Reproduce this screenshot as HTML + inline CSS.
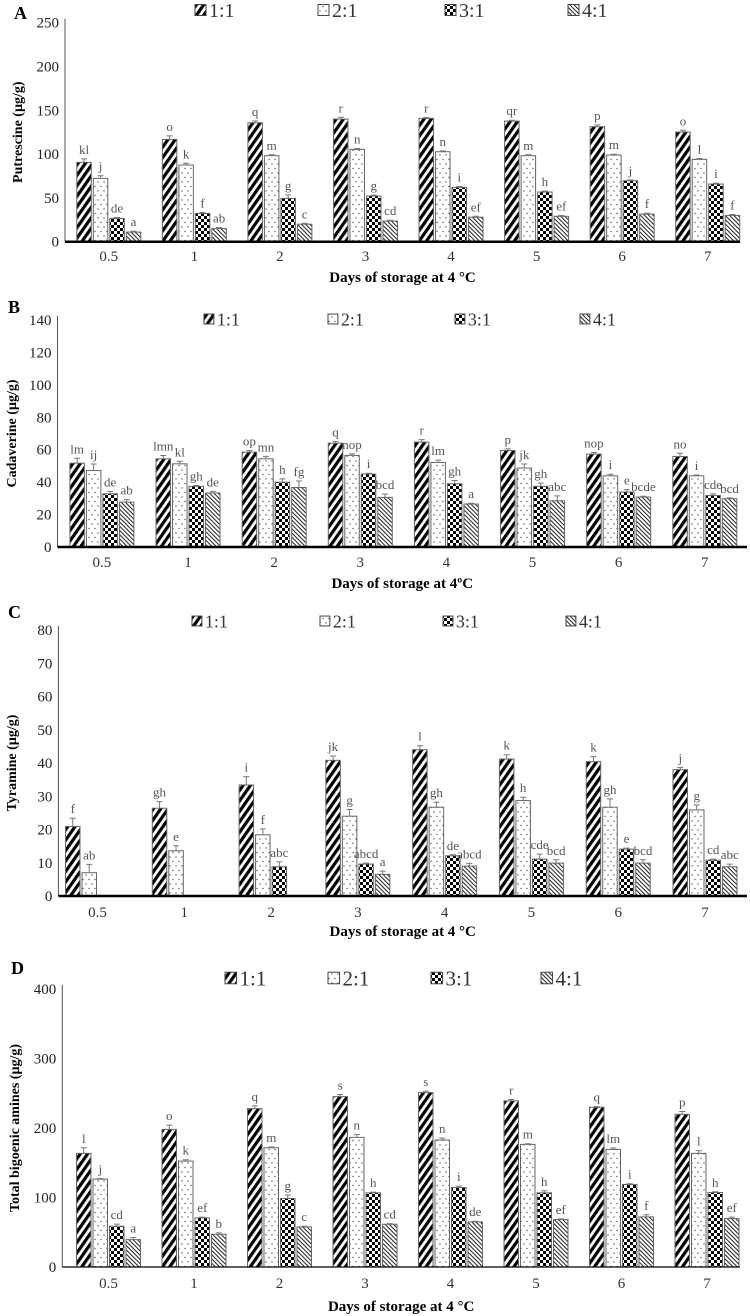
<!DOCTYPE html>
<html><head><meta charset="utf-8">
<style>
body{margin:0;background:#fff;}
svg{display:block;font-family:"Liberation Serif",serif;}
</style></head>
<body>
<svg id="fig" width="750" height="1316" viewBox="0 0 750 1316" xmlns="http://www.w3.org/2000/svg">
<defs>
<pattern id="p11" width="6" height="6" patternUnits="userSpaceOnUse" patternTransform="rotate(35)">
<rect width="6" height="6" fill="#fff"/><rect width="3.2" height="6" fill="#000"/></pattern>
<pattern id="p21" width="6" height="9" patternUnits="userSpaceOnUse">
<rect width="6" height="9" fill="#fff"/><circle cx="2" cy="2" r="0.7" fill="#555"/><circle cx="5" cy="6.5" r="0.7" fill="#555"/></pattern>
<pattern id="p31" width="6" height="6" patternUnits="userSpaceOnUse">
<rect width="6" height="6" fill="#fff"/><rect width="3" height="3" fill="#000"/><rect x="3" y="3" width="3" height="3" fill="#000"/></pattern>
<pattern id="p41" width="3" height="3" patternUnits="userSpaceOnUse" patternTransform="rotate(-45)">
<rect width="3" height="3" fill="#fff"/><rect width="1" height="3" fill="#222"/></pattern>
</defs>
</svg>
<script>
const days=["0.5","1","2","3","4","5","6","7"];
const ratios=["1:1","2:1","3:1","4:1"];
const putrescine=[[90.6,116.8,135.8,140,140.8,137.7,131.3,125.2],[72.3,87.5,98.2,105.4,102.7,98.2,98.9,94],[26.6,32.3,49.5,52.1,62,56.7,69.6,65.8],[11,15,20,23.5,28,29,31.5,30]];
const putrescineErr=[[4,4,2,2,1,1,2,2],[3,2,1,1,1,1,1,1],[1,1,4,1,1,1,1,1],[1,1,1,1,1,1,1,1]];
const putrescineLetters=[["kl","o","q","r","r","qr","p","o"],["j","k","m","n","n","m","m","l"],["de","f","g","g","i","h","j","i"],["a","ab","c","cd","ef","ef","f","f"]];
const cadaverine=[[51.7,54.4,58.5,64,64.7,59.5,57.3,55.8],[47.2,51.3,54.4,56.5,52.1,48.7,43.9,43.9],[32.8,37.4,40,45,39,37.4,33.9,31.8],[27.7,33.3,36.7,30.6,26.5,28.5,30.8,29.8]];
const cadaverineErr=[[3,2,1,1,1.5,1,1,2],[4,1.5,1.5,1,1.5,2.5,1,0.5],[1.5,0.5,2,0.5,2,2,1.5,1],[1.5,1,4,2,0.5,3,0.5,0.5]];
const cadaverineLetters=[["lm","lmn","op","q","r","p","nop","no"],["ij","kl","mn","nop","lm","jk","i","i"],["de","gh","h","i","gh","gh","e","cde"],["ab","de","fg","bcd","a","abc","bcde","bcd"]];
const tyramine=[[20.9,26.4,33.4,40.8,44,41.2,40.4,38],[7,13.6,18.4,24,26.7,28.7,26.7,25.9],[null,null,8.8,9.6,12.1,11.1,14.1,10.8],[null,null,null,6.5,9,9.9,9.9,8.8]];
const tyramineErr=[[2.5,2,2.5,1.3,1.2,1.3,1.5,0.7],[2.5,1.5,1.8,2,1.5,1,2.5,1.5],[0,0,1.5,0.3,0.3,1.5,0.3,0.3],[0,0,0,1,0.8,1,1,0.8]];
const tyramineLetters=[["f","gh","i","jk","l","k","k","j"],["ab","e","f","g","gh","h","gh","g"],["","","abc","abcd","de","cde","e","cd"],["","","","a","abcd","bcd","bcd","abc"]];
const totalAmines=[[163.5,198,227.9,245.2,251,239,229.8,219.7],[126.4,152.4,171.6,186.5,182.7,176.4,169.2,163.5],[58.7,70.7,98.6,106.7,114.4,106.7,118.8,107.2],[39.4,47.1,57.7,61.5,64.9,68.3,72.1,69.7]];
const totalErr=[[8,6,4,3,2,2,1,4],[1,2,1,4,3,1,2,4],[3,1,5,1,2,3,1,1],[3,2,1,1,1,1,3,2]];
const totalLetters=[["l","o","q","s","s","r","q","p"],["j","k","m","n","n","m","lm","l"],["cd","ef","g","h","i","h","i","h"],["a","b","c","cd","de","ef","f","ef"]];

const yTicksA=[0,50,100,150,200,250];
const yTicksB=[0,20,40,60,80,100,120,140];
const yTicksC=[0,10,20,30,40,50,60,70,80];
const yTicksD=[0,100,200,300,400];

const NS="http://www.w3.org/2000/svg";
const svg=document.getElementById('fig');
function mk(tag,attrs,parent,text){const e=document.createElementNS(NS,tag);for(const k in attrs)e.setAttribute(k,attrs[k]);if(text!==undefined)e.textContent=text;(parent||svg).appendChild(e);return e;}
const pats=["url(#p11)","url(#p21)","url(#p31)","url(#p41)"];

const panels=[
 {key:"a",label:"A",lx:14,ly:19,data:putrescine,err:putrescineErr,letters:putrescineLetters,ticks:yTicksA,max:250,yTop:22.7,yBase:241.7,ax:65,axR:740,c0:108.8,c7:707.7,tickY:261,title:"Days of storage at 4 °C",titleY:282,yTitle:"Putrescine (µg/g)",yTitleX:14,legY:10,legX:[195,318,445,568],legFont:20,baseW:2.5},
 {key:"b",label:"B",lx:8,ly:313,data:cadaverine,err:cadaverineErr,letters:cadaverineLetters,ticks:yTicksB,max:140,yTop:320,yBase:547,ax:57.5,axR:747,c0:101.9,c7:704.8,tickY:567,title:"Days of storage at 4ºC",titleY:588,yTitle:"Cadaverine (µg/g)",yTitleX:8,legY:319,legX:[204,328,455,580],legFont:18,baseW:2.5},
 {key:"c",label:"C",lx:8,ly:618,data:tyramine,err:tyramineErr,letters:tyramineLetters,ticks:yTicksC,max:80,yTop:630,yBase:896,ax:58.4,axR:747,c0:97.5,c7:705,tickY:917,title:"Days of storage at 4 °C",titleY:936,yTitle:"Tyramine (µg/g)",yTitleX:8,legY:621,legX:[192,320,443,566],legFont:18,baseW:2.5},
 {key:"d",label:"D",lx:11,ly:974,data:totalAmines,err:totalErr,letters:totalLetters,ticks:yTicksD,max:400,yTop:989,yBase:1267,ax:62.3,axR:740,c0:108.5,c7:707,tickY:1288,title:"Days of storage at 4 °C",titleY:1311,yTitle:"Total bigoenic amines (µg/g)",yTitleX:11,legY:978,legX:[225,328,431,541],legFont:21,baseW:1.2}
];
const barW=14.5, barStep=16.5;

panels.forEach(p=>{
  const g=mk('g',{});
  
  
  const yScale=v=>p.yBase-(v/p.max)*(p.yBase-p.yTop);
  const step=(p.c7-p.c0)/(days.length-1);
  const xCenter=i=>p.c0+i*step;
  const lab=mk('text',{x:p.lx,y:p.ly,'font-size':18,'font-weight':'bold'},g,p.label);
  
  
  ratios.forEach((r,s)=>{
    const lg=mk('g',{},g);
    
    
    const sz=p.legFont*0.55;
    mk('rect',{x:p.legX[s],y:p.legY-sz/2,width:sz,height:sz,fill:pats[s],stroke:'#444','stroke-width':1},lg);
    mk('text',{x:p.legX[s]+sz+3,y:p.legY+p.legFont*0.35,'font-size':p.legFont,fill:'#333'},lg,r);
  });
  const ya=mk('line',{x1:p.ax,x2:p.ax,y1:p.yTop-4,y2:p.yBase,stroke:'#555','stroke-width':1},g);
  
  
  p.ticks.forEach(t=>{
    const tl=mk('text',{x:p.ax-6,y:yScale(t)+5,'font-size':15,'text-anchor':'end',fill:'#222'},g,String(t));
    
    
  });
  const yc=(p.yTop+p.yBase)/2;
  const yt=mk('text',{x:p.yTitleX+8,y:yc,'font-size':14,'font-weight':'bold','text-anchor':'middle',transform:`rotate(-90 ${p.yTitleX+8} ${yc})`},g,p.yTitle);
  
  
  days.forEach((d,i)=>{
    const cx=xCenter(i);
    p.data.forEach((ser,s)=>{
      const v=ser[i];
      if(v===null||v===undefined)return;
      const x=cx-2*barStep+(barStep-barW)/2+s*barStep;
      const yv=yScale(v);
      const b=mk('rect',{x:x,y:yv,width:barW,height:p.yBase-yv,fill:pats[s],stroke:'#666','stroke-width':1},g);
      
      
      const e=p.err[s][i]||0;
      const ye=yScale(v+e);
      const em=x+barW/2;
      if(e>0){
        const eb=mk('path',{d:`M${em} ${yv}V${ye}M${em-3} ${ye}H${em+3}`,stroke:'#777','stroke-width':1,fill:'none'},g);
        
        
      }
      const L=p.letters[s][i];
      if(L){
        const lt=mk('text',{x:em,y:ye-5,'font-size':13,'text-anchor':'middle',fill:'#555'},g,L);
        
        
      }
    });
    const xl=mk('text',{x:cx,y:p.tickY,'font-size':15,'text-anchor':'middle',fill:'#333'},g,d);
    
    
  });
  const xa=mk('line',{x1:p.ax,x2:p.axR,y1:p.yBase,y2:p.yBase,stroke:'#000','stroke-width':p.baseW},g);
  
  
  const xt=mk('text',{x:(p.ax+p.axR)/2,y:p.titleY,'font-size':15,'font-weight':'bold','text-anchor':'middle'},g,p.title);
  
  
});
</script>
</body></html>
